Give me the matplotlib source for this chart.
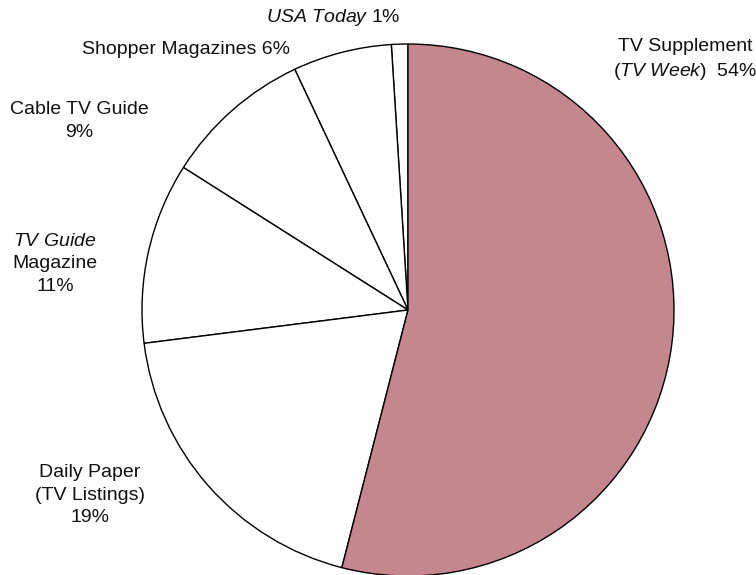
import matplotlib
matplotlib.use("Agg")
import matplotlib.pyplot as plt

plt.rcParams['font.family'] = ['Liberation Sans', 'DejaVu Sans']
plt.rcParams['mathtext.fontset'] = 'custom'
plt.rcParams['mathtext.rm'] = 'Liberation Sans'
plt.rcParams['mathtext.it'] = 'Liberation Sans:italic'

# slices, counter-clockwise from 12 o'clock
sources = ['USA Today', 'Shopper Magazines', 'Cable TV Guide', 'TV Guide Magazine',
           'Daily Paper (TV Listings)', 'TV Supplement (TV Week)']
shares = [1, 6, 9, 11, 19, 54]
colors = ['white', 'white', 'white', 'white', 'white', '#C4878D']

label_text = [
    '$\\mathit{USA\\ Today}$ %d%%',
    'Shopper Magazines %d%%',
    'Cable TV Guide\n%d%%',
    '$\\mathit{TV\\ Guide}$\nMagazine\n%d%%',
    'Daily Paper\n(TV Listings)\n%d%%',
    'TV Supplement\n($\\mathit{TV\\ Week}$)  %d%%',
]
# label centres in pixel coords (x from left, y from top)
label_pos = [(333, 18), (186, 50), (79, 121), (55, 264), (90, 495), (685, 60)]

W, H = 756, 575
fig = plt.figure(figsize=(W / 100, H / 100), dpi=100)
ax = fig.add_axes([0, 0, 1, 1])
ax.set_xlim(0, W)
ax.set_ylim(0, H)
ax.set_aspect('equal')
ax.axis('off')

ax.pie(shares, colors=colors, startangle=90, counterclock=True,
       center=(408, H - 310), radius=266,
       wedgeprops=dict(edgecolor='black', linewidth=1.0))
ax.set_xlim(0, W)
ax.set_ylim(0, H)

for txt, v, (x, y) in zip(label_text, shares, label_pos):
    ax.text(x, H - y, txt % v, ha='center', va='center', fontsize=14,
            linespacing=1.4, color='#111111')

fig.savefig('out.png', dpi=100)
